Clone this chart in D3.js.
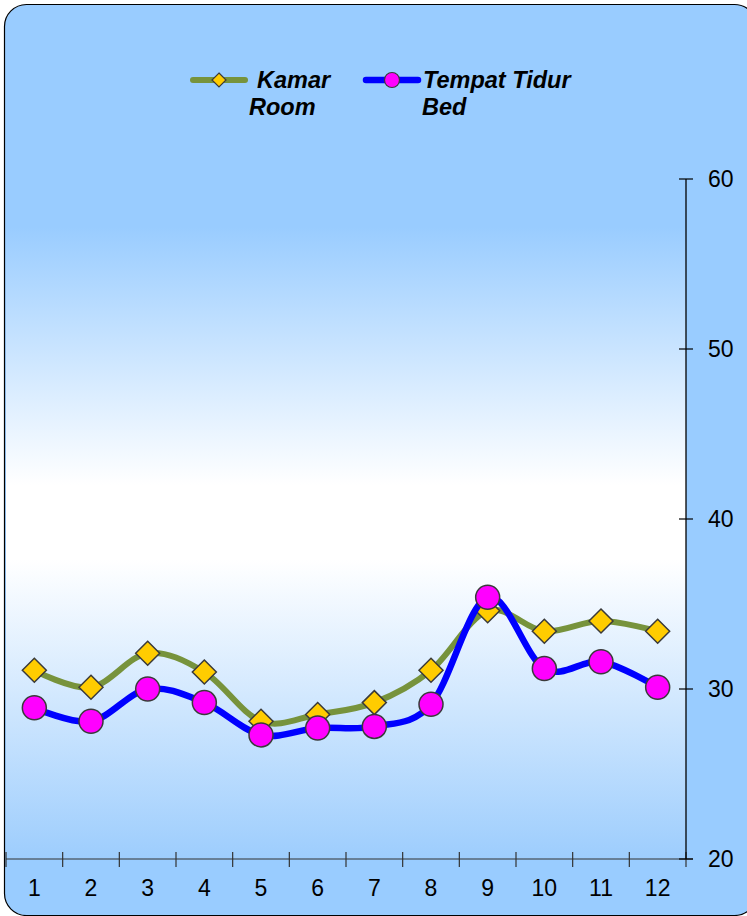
<!DOCTYPE html>
<html>
<head>
<meta charset="utf-8">
<script src="https://cdn.jsdelivr.net/npm/d3@7"></script>
<style>
  html, body { margin: 0; padding: 0; background: #ffffff; }
  svg { display: block; }
  text { font-family: "Liberation Sans", Arial, sans-serif; fill: #000; }
</style>
</head>
<body>
<svg id="chart" width="747" height="916"></svg>
<script>
// ---- data ----
const categories = ["1","2","3","4","5","6","7","8","9","10","11","12"];
const kamar = [31.1, 30.1, 32.1, 31.0, 28.1, 28.5, 29.2, 31.1, 34.6, 33.4, 34.0, 33.4];
const tempatTidur = [28.9, 28.1, 30.0, 29.2, 27.3, 27.7, 27.8, 29.1, 35.4, 31.2, 31.6, 30.1];
const yTicks = [20, 30, 40, 50, 60];
const seriesNames = [["Kamar", "Room"], ["Tempat Tidur", "Bed"]];

// ---- layout ----
const W = 747, H = 916;
const plot = { left: 6, right: 686, top: 179, bottom: 859 };

const svg = d3.select("#chart");
const defs = svg.append("defs");

const grad = defs.append("linearGradient")
  .attr("id", "plotGrad").attr("x1", 0).attr("y1", 0).attr("x2", 0).attr("y2", 1);
grad.append("stop").attr("offset", "0%").attr("stop-color", "#99CCFF");
grad.append("stop").attr("offset", "7%").attr("stop-color", "#99CCFF");
grad.append("stop").attr("offset", "45%").attr("stop-color", "#FFFFFF");
grad.append("stop").attr("offset", "56%").attr("stop-color", "#FFFFFF");
grad.append("stop").attr("offset", "100%").attr("stop-color", "#9DCDFD");

// outer rounded background
svg.append("rect")
  .attr("x", 4.5).attr("y", 4.5)
  .attr("width", 752).attr("height", 911)
  .attr("rx", 22).attr("ry", 22)
  .attr("fill", "#99CCFF")
  .attr("stroke", "#000").attr("stroke-width", 1.2);

// plot area gradient
svg.append("rect")
  .attr("x", plot.left).attr("y", plot.top)
  .attr("width", plot.right - plot.left)
  .attr("height", plot.bottom - plot.top)
  .attr("fill", "url(#plotGrad)");

// ---- scales ----
const x = d3.scaleBand().domain(categories).range([plot.left, plot.right]).padding(0);
const y = d3.scaleLinear().domain([20, 60]).range([plot.bottom, plot.top]);
const cx = d => x(d) + x.bandwidth() / 2;

// ---- axes ----
svg.append("line")
  .attr("x1", plot.left).attr("x2", plot.right + 7)
  .attr("y1", plot.bottom).attr("y2", plot.bottom)
  .attr("stroke", "#333").attr("stroke-width", 1.2);
const xBounds = categories.map(c => x(c)).concat([plot.right]);
svg.selectAll(".xtick").data(xBounds).join("line")
  .attr("x1", d => d).attr("x2", d => d)
  .attr("y1", plot.bottom - 7).attr("y2", plot.bottom + 8)
  .attr("stroke", "#333").attr("stroke-width", 1.2);
svg.selectAll(".xlab").data(categories).join("text")
  .attr("x", d => cx(d)).attr("y", 896)
  .attr("text-anchor", "middle")
  .attr("font-size", 23)
  .text(d => d);

svg.append("line")
  .attr("x1", plot.right).attr("x2", plot.right)
  .attr("y1", plot.top).attr("y2", plot.bottom)
  .attr("stroke", "#000").attr("stroke-width", 1.3);
svg.selectAll(".ytick").data(yTicks).join("line")
  .attr("x1", plot.right - 7).attr("x2", plot.right + 7)
  .attr("y1", d => y(d)).attr("y2", d => y(d))
  .attr("stroke", "#000").attr("stroke-width", 1.2);
svg.selectAll(".ylab").data(yTicks).join("text")
  .attr("x", 708).attr("y", d => y(d) + 8)
  .attr("font-size", 23)
  .text(d => d);

// ---- series ----
const line = d3.line()
  .x((d, i) => cx(categories[i]))
  .y(d => y(d))
  .curve(d3.curveCardinal.tension(0));

const diamond = (s) => `M0,${-s}L${s},0L0,${s}L${-s},0Z`;

svg.append("path").datum(kamar)
  .attr("d", line).attr("fill", "none")
  .attr("stroke", "#77933C").attr("stroke-width", 6)
  .attr("stroke-linejoin", "round");
svg.selectAll(".km").data(kamar).join("path")
  .attr("transform", (d, i) => `translate(${cx(categories[i])},${y(d)})`)
  .attr("d", diamond(12))
  .attr("fill", "#FFCC00").attr("stroke", "#3a3a3a").attr("stroke-width", 1.5);

svg.append("path").datum(tempatTidur)
  .attr("d", line).attr("fill", "none")
  .attr("stroke", "#0000FF").attr("stroke-width", 6.5)
  .attr("stroke-linejoin", "round");
svg.selectAll(".tm").data(tempatTidur).join("circle")
  .attr("cx", (d, i) => cx(categories[i])).attr("cy", d => y(d))
  .attr("r", 12)
  .attr("fill", "#FF00FF").attr("stroke", "#3a3a3a").attr("stroke-width", 1.5);

// ---- legend ----
const lg = svg.append("g");
lg.append("line").attr("x1", 193).attr("x2", 245).attr("y1", 80).attr("y2", 80)
  .attr("stroke", "#77933C").attr("stroke-width", 6).attr("stroke-linecap", "round");
lg.append("path").attr("transform", "translate(219,80)").attr("d", diamond(7))
  .attr("fill", "#FFCC00").attr("stroke", "#3a3a3a").attr("stroke-width", 1.2);
lg.append("text").attr("x", 257).attr("y", 88)
  .attr("font-size", 23.5).attr("font-weight", "bold").attr("font-style", "italic")
  .text(seriesNames[0][0]);
lg.append("text").attr("x", 249).attr("y", 115)
  .attr("font-size", 23.5).attr("font-weight", "bold").attr("font-style", "italic")
  .text(seriesNames[0][1]);
lg.append("line").attr("x1", 366).attr("x2", 418).attr("y1", 80).attr("y2", 80)
  .attr("stroke", "#0000FF").attr("stroke-width", 6.5).attr("stroke-linecap", "round");
lg.append("circle").attr("cx", 392).attr("cy", 80).attr("r", 7.5)
  .attr("fill", "#FF00FF").attr("stroke", "#3a3a3a").attr("stroke-width", 1.2);
lg.append("text").attr("x", 423).attr("y", 88)
  .attr("font-size", 23.5).attr("font-weight", "bold").attr("font-style", "italic")
  .text(seriesNames[1][0]);
lg.append("text").attr("x", 422).attr("y", 115)
  .attr("font-size", 23.5).attr("font-weight", "bold").attr("font-style", "italic")
  .text(seriesNames[1][1]);
</script>
</body>
</html>
